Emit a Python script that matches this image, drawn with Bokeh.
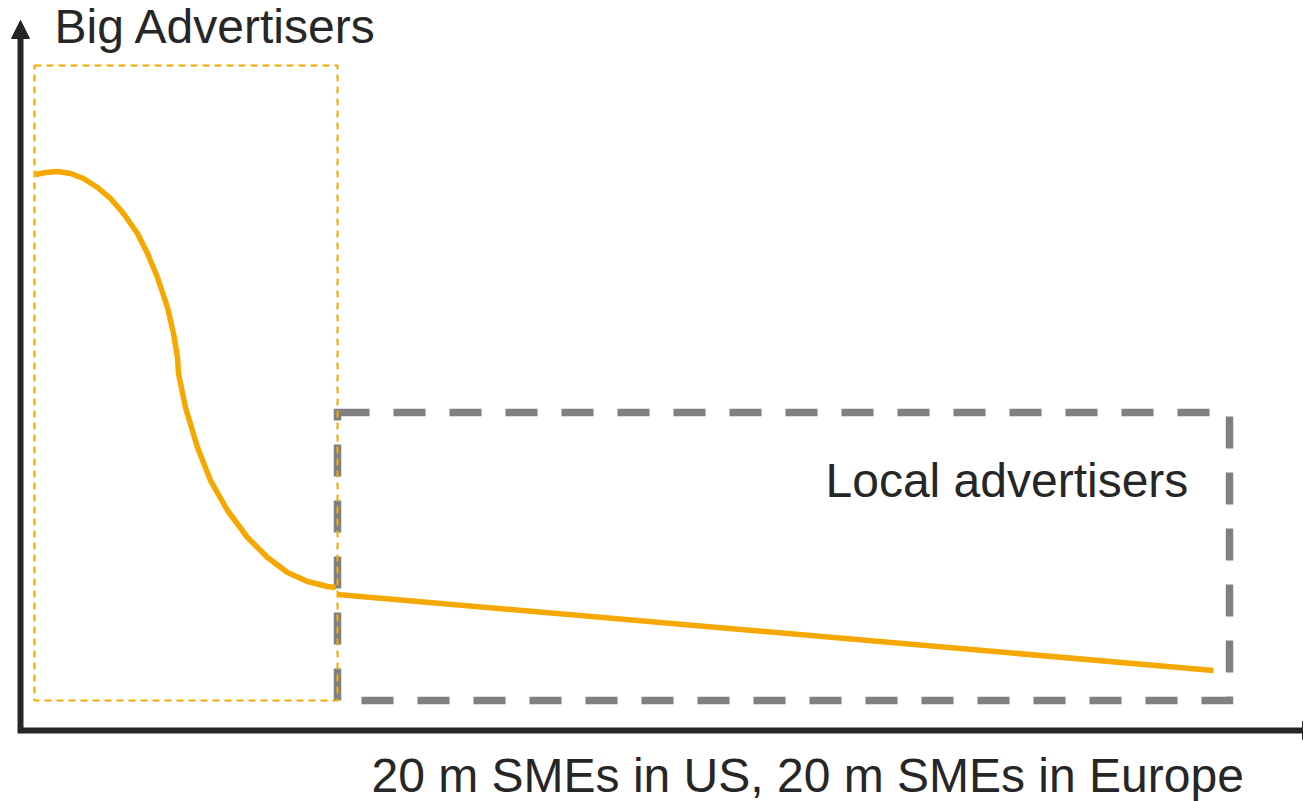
from bokeh.plotting import figure
from bokeh.models import Range1d, Arrow, NormalHead
from bokeh.core.properties import value
from bokeh.embed import file_html
from bokeh.resources import INLINE

# Long-tail curve: steep head (big advertisers) then flat tail (local advertisers)
head_x = [35, 45, 57, 70, 83, 97, 110, 123, 137, 147, 157, 167, 173, 177,
          178, 185, 197, 210, 227, 247, 267, 287, 307, 327, 335]
head_y = [174, 172, 171, 173, 178, 187, 198, 213, 233, 253, 277, 307, 333, 357,
          373, 407, 447, 480, 510, 537, 557, 572, 581, 586, 587]
tail_x = [337, 1213]
tail_y = [594, 670]

# Group boxes: [left, right, top, bottom]
big_box = [34, 337, 65, 700]
local_box = [337, 1229, 412, 700]

labels = ["Big Advertisers", "Local advertisers", "20 m SMEs in US, 20 m SMEs in Europe"]
label_x = [54, 825, 371]
label_y = [26, 480, 775]

ORANGE = "#F5A800"
GREY = "#808080"
INK = "#262626"
FONT = value("Liberation Sans")

p = figure(width=1303, height=801, output_backend="svg", toolbar_location=None,
           x_range=Range1d(0, 1303), y_range=Range1d(801, 0),
           min_border=0, min_border_left=0, min_border_right=0,
           min_border_top=0, min_border_bottom=0)
p.axis.visible = False
p.grid.visible = False
p.outline_line_color = None
p.background_fill_color = "white"
p.border_fill_color = "white"

# Local advertisers box (thick grey dashes)
p.quad(left=[local_box[0]], right=[local_box[1]], top=[local_box[2]], bottom=[local_box[3]],
       fill_alpha=0, line_color=GREY, line_width=7.5, line_dash="32 24", line_join="miter")

# Big advertisers box (thin orange dashes)
p.quad(left=[big_box[0]], right=[big_box[1]], top=[big_box[2]], bottom=[big_box[3]],
       fill_alpha=0, line_color=ORANGE, line_width=2, line_dash="7 5")

# Curve
p.line(head_x, head_y, line_color=ORANGE, line_width=5.5, line_join="round")
p.line(tail_x, tail_y, line_color=ORANGE, line_width=5.5)

# Axes drawn as an L with arrow heads
p.line([20, 20, 1303], [36, 730, 730], line_color=INK, line_width=6, line_join="miter")
p.add_layout(Arrow(x_start=20, y_start=200, x_end=20, y_end=20, line_alpha=0,
                   end=NormalHead(size=18, fill_color=INK, line_color=INK, line_width=1)))
p.add_layout(Arrow(x_start=1100, y_start=730, x_end=1320, y_end=730, line_alpha=0,
                   end=NormalHead(size=18, fill_color=INK, line_color=INK, line_width=1)))

# Labels
p.text(x=label_x, y=label_y, text=labels, text_font=FONT, text_font_size="48px",
       text_color=INK, text_baseline="alphabetic", text_align="left")

open("out.html", "w").write(file_html(p, INLINE))
